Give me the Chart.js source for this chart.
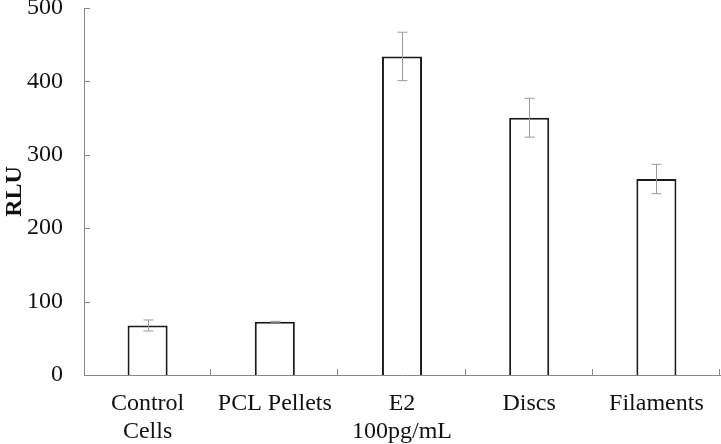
<!DOCTYPE html>
<html>
<head>
<meta charset="utf-8">
<script src="https://cdn.jsdelivr.net/npm/chart.js@4.4.0/dist/chart.umd.min.js"></script>
<style>
  html, body { margin: 0; padding: 0; background: #fff; }
  #wrap { width: 721px; height: 444px; }
</style>
</head>
<body>
<div id="wrap"><canvas id="myChart"></canvas></div>
<script>
var labels = [["Control", "Cells"], "PCL Pellets", ["E2", "100pg/mL"], "Discs", "Filaments"];
var rlu = [67.5, 72.5, 434, 350.5, 267];
var errs = [7.5, 0.6, 33, 26.5, 20];
var yTicks = [0, 100, 200, 300, 400, 500];

// error bars + inward tick marks
var extras = {
    id: "extras",
    afterDatasetsDraw: function (chart) {
        var ctx = chart.ctx;
        var y = chart.scales.y;
        var x = chart.scales.x;
        var meta = chart.getDatasetMeta(0);
        ctx.save();
        ctx.strokeStyle = "#999";
        ctx.lineWidth = 1;
        meta.data.forEach(function (bar, i) {
            var cx = Math.round(bar.x) + 0.5;
            var top = y.getPixelForValue(rlu[i] + errs[i]);
            var bot = y.getPixelForValue(rlu[i] - errs[i]);
            ctx.beginPath();
            ctx.moveTo(cx, top); ctx.lineTo(cx, bot);
            ctx.moveTo(cx - 5, top); ctx.lineTo(cx + 5, top);
            ctx.moveTo(cx - 5, bot); ctx.lineTo(cx + 5, bot);
            ctx.stroke();
        });
        ctx.strokeStyle = "#888";
        yTicks.forEach(function (v) {
            var py = Math.round(y.getPixelForValue(v)) + 0.5;
            ctx.beginPath();
            ctx.moveTo(x.left, py); ctx.lineTo(x.left + 6, py);
            ctx.stroke();
        });
        for (var i = 1; i <= labels.length; i++) {
            var px = Math.round(x.left + (x.right - x.left) * i / labels.length) - 0.5;
            ctx.beginPath();
            ctx.moveTo(px, y.bottom); ctx.lineTo(px, y.bottom - 6);
            ctx.stroke();
        }
        ctx.restore();
    }
};

new Chart("myChart", {
    type: "bar",
    data: {
        labels: labels,
        datasets: [{
            data: rlu,
            backgroundColor: "#fff",
            borderColor: "#1a1a1a",
            borderWidth: 2,
            barPercentage: 0.63,
            categoryPercentage: 0.5
        }]
    },
    options: {
        responsive: true,
        maintainAspectRatio: false,
        animation: false,
        layout: { padding: { top: 8, right: 1, left: 0, bottom: 0 } },
        plugins: {
            legend: { display: false },
            tooltip: { enabled: false }
        },
        scales: {
            x: {
                grid: { display: false },
                border: { display: true, color: "#888", width: 1 },
                ticks: {
                    color: "#111",
                    padding: 6,
                    maxRotation: 0,
                    autoSkip: false,
                    font: { family: "Liberation Serif", size: 24, lineHeight: 1.2 }
                },
                afterFit: function (s) { s.height = 69; s.paddingLeft = 0; s.paddingRight = 0; }
            },
            y: {
                min: 0,
                max: 500,
                grid: { display: false },
                border: { display: true, color: "#888", width: 1 },
                ticks: {
                    stepSize: 100,
                    color: "#111",
                    padding: 13,
                    font: { family: "Liberation Serif", size: 24 }
                },
                title: {
                    display: true,
                    text: "RLU",
                    color: "#111",
                    padding: 0,
                    font: { family: "Liberation Serif", size: 24, weight: "bold" }
                },
                afterFit: function (s) { s.width = 84; s.paddingTop = 0; s.paddingBottom = 0; }
            }
        }
    },
    plugins: [extras]
});
</script>
</body>
</html>
